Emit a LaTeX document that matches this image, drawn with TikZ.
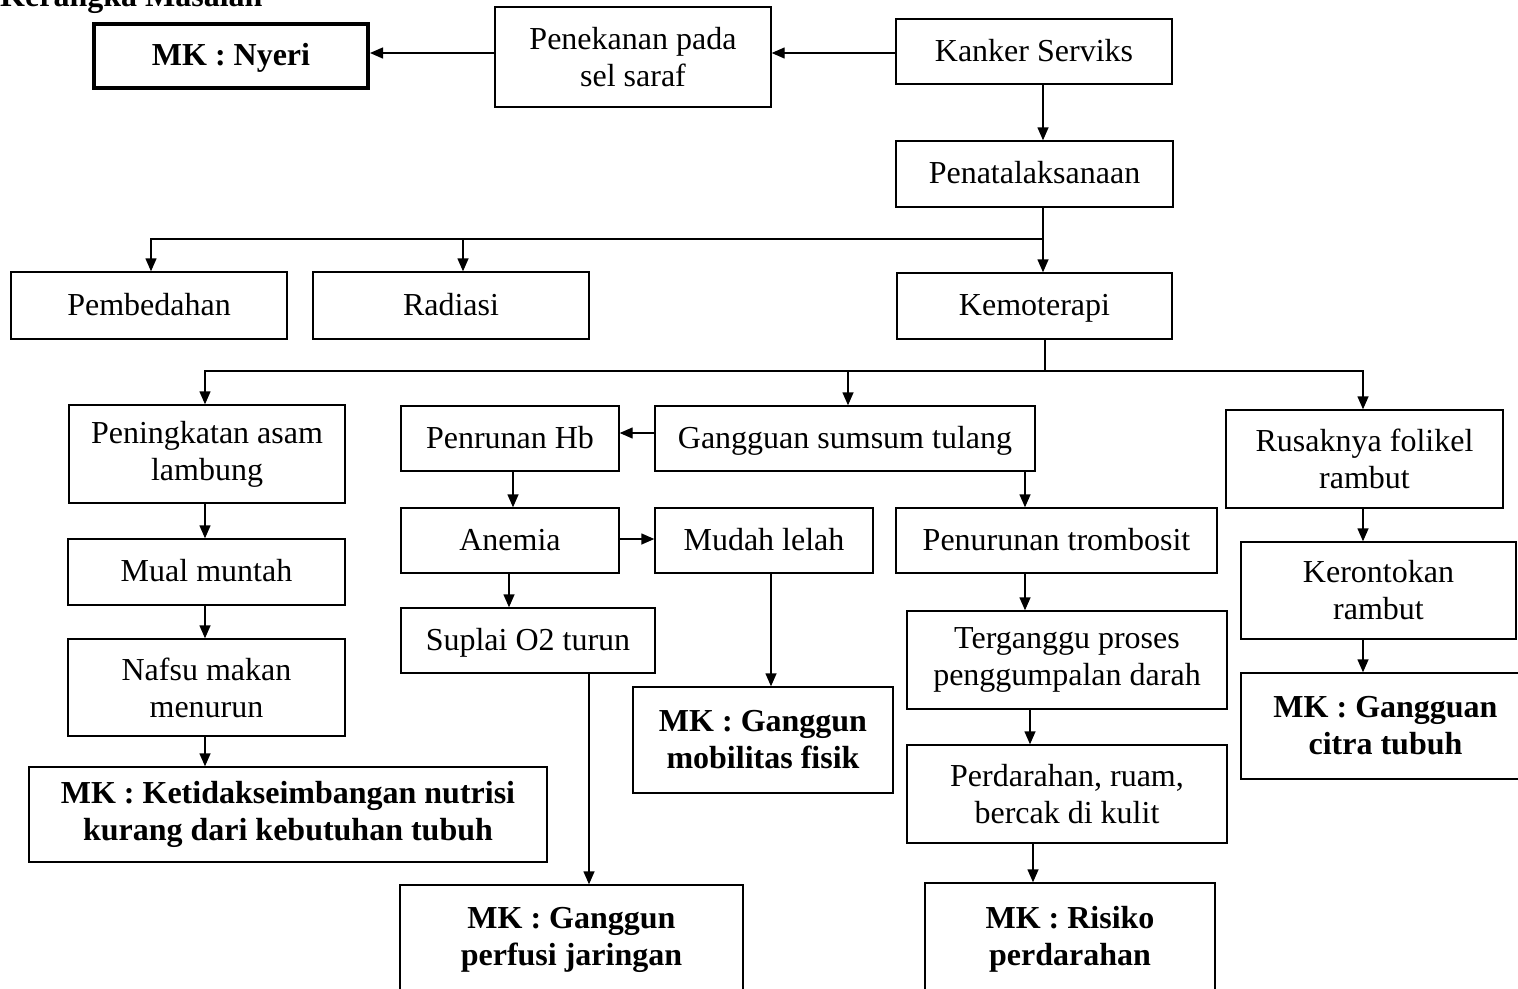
\documentclass[tikz,border=0pt]{standalone}
\usepackage{fontspec}
\setmainfont{Liberation Serif}
\usetikzlibrary{arrows.meta,calc}
\newcommand{\bx}[7]{\node[#1, minimum width={#5-#3}, minimum height={#6-#4}] (#2) at ({(#3+#5)/2},{(#4+#6)/2}) {#7};}
\begin{document}
\begin{tikzpicture}[x=1pt,y=-1pt,
  box/.style={draw, line width=1.4pt, inner sep=0pt, align=center, font=\fontsize{32}{37}\selectfont},
  one/.style={box, text height=19pt, text depth=0pt},
  mk/.style={box, font=\fontsize{32}{37}\selectfont\bfseries},
  arr/.style={line width=1.4pt, -{Triangle[length=13pt,width=11pt]}},
  ln/.style={line width=1.4pt}]
\useasboundingbox (0,0) rectangle (1518,988);
\node[anchor=base west, inner sep=0pt, font=\fontsize{32}{37}\selectfont\bfseries] (title) at (0,6) {Kerangka Masalah};
% boxes
\bx{one, mk, line width=4pt}{nyeri}{94}{24}{368}{88}{MK : Nyeri}
\bx{box}{penekanan}{495}{7}{771}{107}{Penekanan pada\\sel saraf}
\bx{one}{kanker}{896}{19}{1172}{84}{Kanker Serviks}
\bx{one}{penata}{896}{141}{1173}{207}{Penatalaksanaan}
\bx{one}{pembedahan}{11}{272}{287}{339}{Pembedahan}
\bx{one}{radiasi}{313}{272}{589}{339}{Radiasi}
\bx{one}{kemo}{897}{273}{1172}{339}{Kemoterapi}
\bx{box}{peningkatan}{69}{405}{345}{503}{Peningkatan asam\\lambung}
\bx{one}{penrunan}{401}{406}{619}{471}{Penrunan Hb}
\bx{one}{gangguan}{655}{406}{1035}{471}{Gangguan sumsum tulang}
\bx{box}{rusak}{1226}{410}{1503}{508}{Rusaknya folikel\\rambut}
\bx{one}{anemia}{401}{508}{619}{573}{Anemia}
\bx{one}{mudah}{655}{508}{873}{573}{Mudah lelah}
\bx{one}{trombosit}{896}{508}{1217}{573}{Penurunan trombosit}
\bx{one}{mual}{68}{539}{345}{605}{Mual muntah}
\bx{one}{suplai}{401}{608}{655}{673}{Suplai O2 turun}
\bx{box}{terganggu}{907}{611}{1227}{709}{Terganggu proses\\penggumpalan darah}
\bx{box}{nafsu}{68}{639}{345}{736}{Nafsu makan\\menurun}
\bx{box}{kerontokan}{1241}{542}{1516}{639}{Kerontokan\\rambut}
\bx{mk}{citra}{1241}{673}{1530}{779}{MK : Gangguan\\citra tubuh}
\bx{mk}{mobilitas}{633}{687}{893}{793}{MK : Ganggun\\mobilitas fisik}
\bx{box}{perdarahan}{907}{745}{1227}{843}{Perdarahan, ruam,\\bercak di kulit}
\bx{mk}{ketidak}{29}{767}{547}{862}{MK : Ketidakseimbangan nutrisi\\kurang dari kebutuhan tubuh}
\bx{mk}{perfusi}{400}{885}{743}{995}{MK : Ganggun\\perfusi jaringan}
\bx{mk}{risiko}{925}{883}{1215}{995}{MK : Risiko\\perdarahan}
% helper coordinates
\coordinate (hA) at (0,53);
\coordinate (hB) at (0,239);
\coordinate (hC) at (0,371);
\coordinate (hD) at (0,433);
\coordinate (hE) at (0,539);
\coordinate (xT) at (1043,0);
\coordinate (xK) at (1045,0);
\coordinate (xPb) at (151,0);
\coordinate (xRd) at (463,0);
\coordinate (xPn) at (205,0);
\coordinate (xGs) at (848,0);
\coordinate (xRs) at (1363,0);
\coordinate (xHb) at (513,0);
\coordinate (xTr) at (1025,0);
\coordinate (xAn) at (509,0);
\coordinate (xMl) at (771,0);
\coordinate (xSp) at (589,0);
\coordinate (xTg) at (1030,0);
\coordinate (xPd) at (1033,0);
% connectors
\draw[arr] (kanker.west |- hA) -- (penekanan.east |- hA);
\draw[arr] (penekanan.west |- hA) -- (nyeri.east |- hA);
\draw[arr] (xT |- kanker.south) -- (xT |- penata.north);
\draw[arr] (xT |- penata.south) -- (xT |- kemo.north);
\draw[arr] (xT |- hB) -| (xPb |- pembedahan.north);
\draw[arr] (xRd |- hB) -- (xRd |- radiasi.north);
\draw[ln] (xK |- kemo.south) -- (xK |- hC);
\draw[arr] (xK |- hC) -| (xPn |- peningkatan.north);
\draw[arr] (xK |- hC) -| (xRs |- rusak.north);
\draw[arr] (xGs |- hC) -- (xGs |- gangguan.north);
\draw[arr] (gangguan.west |- hD) -- (penrunan.east |- hD);
\draw[arr] (xHb |- penrunan.south) -- (xHb |- anemia.north);
\draw[arr] (xTr |- gangguan.south) -- (xTr |- trombosit.north);
\draw[arr] (anemia.east |- hE) -- (mudah.west |- hE);
\draw[arr] (xAn |- anemia.south) -- (xAn |- suplai.north);
\draw[arr] (xMl |- mudah.south) -- (xMl |- mobilitas.north);
\draw[arr] (xSp |- suplai.south) -- (xSp |- perfusi.north);
\draw[arr] (xTr |- trombosit.south) -- (xTr |- terganggu.north);
\draw[arr] (xTg |- terganggu.south) -- (xTg |- perdarahan.north);
\draw[arr] (xPd |- perdarahan.south) -- (xPd |- risiko.north);
\draw[arr] (xPn |- peningkatan.south) -- (xPn |- mual.north);
\draw[arr] (xPn |- mual.south) -- (xPn |- nafsu.north);
\draw[arr] (xPn |- nafsu.south) -- (xPn |- ketidak.north);
\draw[arr] (xRs |- rusak.south) -- (xRs |- kerontokan.north);
\draw[arr] (xRs |- kerontokan.south) -- (xRs |- citra.north);
\end{tikzpicture}
\end{document}
